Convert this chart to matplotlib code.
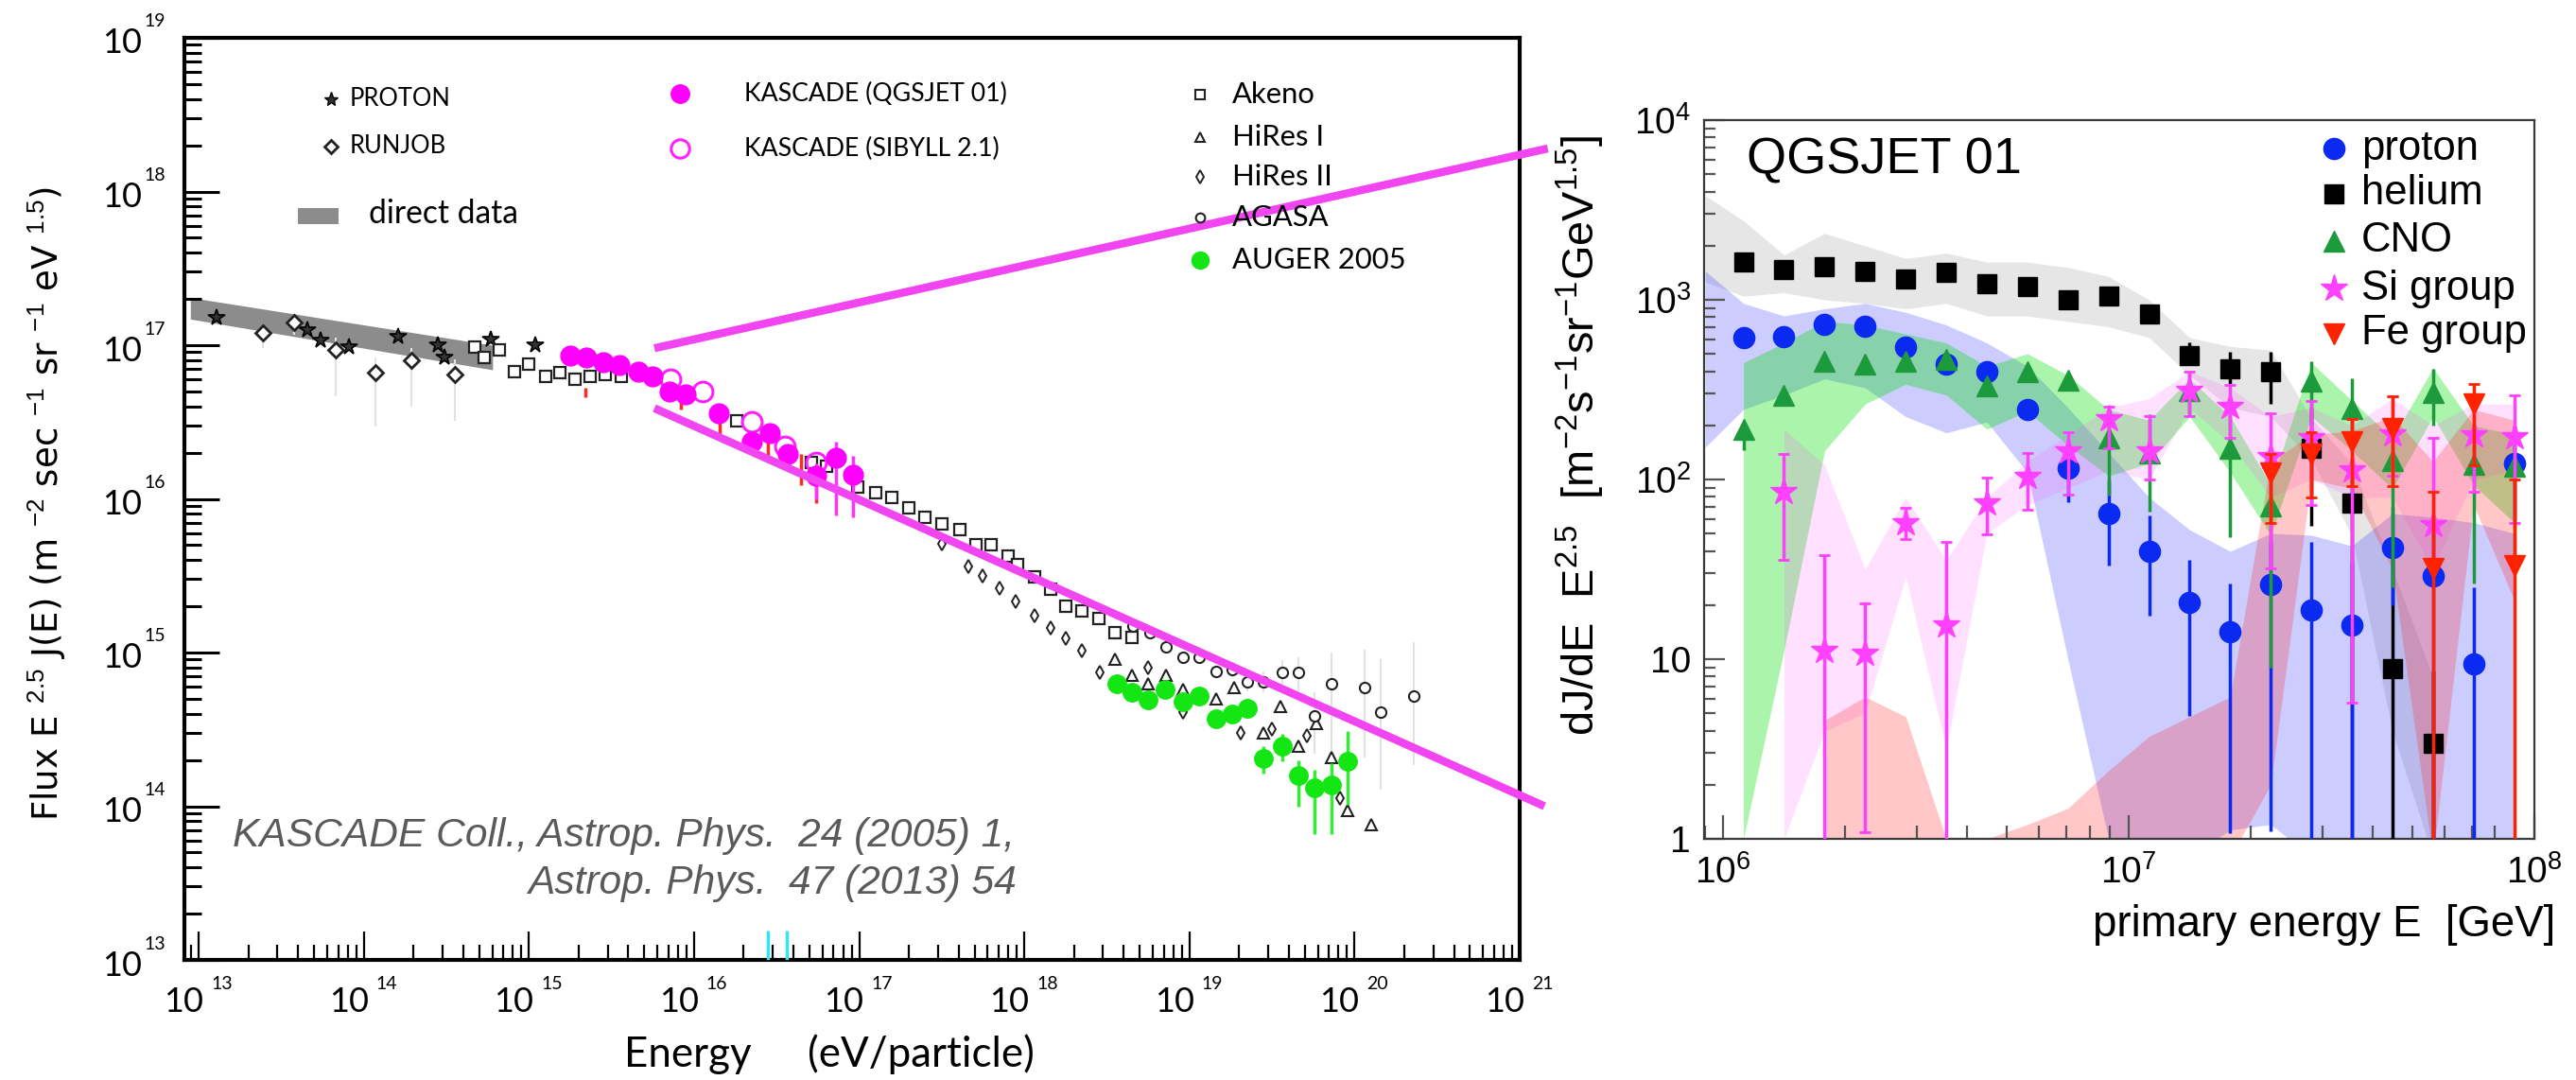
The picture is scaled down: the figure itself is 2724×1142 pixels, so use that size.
import numpy as np
import matplotlib
matplotlib.use('Agg')
import matplotlib.pyplot as plt
from matplotlib.lines import Line2D
from matplotlib.patches import Rectangle
from matplotlib.ticker import LogLocator, NullFormatter, FixedLocator
from matplotlib import font_manager

plt.rcParams['mathtext.fontset'] = 'custom'
plt.rcParams['mathtext.rm'] = 'Liberation Sans'
plt.rcParams['mathtext.it'] = 'Liberation Sans:italic'
plt.rcParams['mathtext.bf'] = 'Liberation Sans:bold'
plt.rcParams['font.family'] = ['Liberation Sans', 'DejaVu Sans']

# ---------------- LEFT PANEL DATA (log10 E [eV], log10 flux) ----------------
proton_logE = [13.11, 13.66, 13.74, 13.91, 14.21, 14.45, 14.49, 14.77, 15.04]
proton_logF = [17.18, 17.10, 17.03, 16.99, 17.055, 17.00, 16.92, 17.04, 17.00]

runjob_logE = [13.39, 13.58, 13.83, 14.07, 14.29, 14.55]
runjob_logF = [17.08, 17.15, 16.97, 16.82, 16.90, 16.81]
runjob_err_lo = [0.10, 0.08, 0.30, 0.35, 0.30, 0.30]
runjob_err_hi = [0.05, 0.05, 0.08, 0.10, 0.08, 0.10]

direct_logE = [12.95, 14.78]
direct_lo = [17.17, 16.84]
direct_hi = [17.31, 17.00]

akeno_logE = [14.67, 14.73, 14.82, 14.91, 15.00, 15.10, 15.19, 15.28, 15.37, 15.46, 15.56,
              16.26, 16.71, 16.80, 16.99, 17.10, 17.20, 17.30, 17.40, 17.50, 17.61, 17.71,
              17.80, 17.90, 17.96, 18.06, 18.16, 18.25, 18.35, 18.45, 18.55, 18.65]
akeno_logF = [16.99, 16.92, 16.97, 16.83, 16.88, 16.80, 16.82, 16.78, 16.80, 16.81, 16.80,
              16.51, 16.24, 16.21, 16.08, 16.04, 16.01, 15.94, 15.88, 15.84, 15.80, 15.70,
              15.70, 15.63, 15.57, 15.49, 15.41, 15.30, 15.27, 15.22, 15.13, 15.10]

hires2_logE = [17.50, 17.66, 17.75, 17.85, 17.95, 18.06, 18.16, 18.25, 18.35, 18.46,
               18.75, 18.96, 19.31, 19.50, 19.71, 19.91]
hires2_logF = [15.71, 15.56, 15.50, 15.42, 15.33, 15.24, 15.16, 15.09, 15.01, 14.87,
               14.90, 14.61, 14.48, 14.50, 14.46, 14.05]

hires1_logE = [18.55, 18.65, 18.75, 18.86, 18.96, 19.16, 19.27, 19.45, 19.55, 19.66,
               19.77, 19.86, 19.96, 20.10]
hires1_logF = [14.96, 14.85, 14.80, 14.85, 14.76, 14.70, 14.77, 14.48, 14.65, 14.39,
               14.54, 14.32, 13.97, 13.88]

agasa_logE = [18.66, 18.76, 18.86, 18.96, 19.06, 19.16, 19.26, 19.35, 19.45, 19.56,
              19.66, 19.76, 19.86, 20.06, 20.16, 20.36]
agasa_logF = [15.17, 15.13, 15.04, 14.97, 14.97, 14.88, 14.89, 14.81, 14.81, 14.87,
              14.87, 14.59, 14.80, 14.77, 14.61, 14.72]
agasa_err_lo = [0.02, 0.02, 0.02, 0.03, 0.03, 0.04, 0.05, 0.06, 0.07, 0.10,
                0.12, 0.25, 0.45, 0.45, 0.50, 0.45]
agasa_err_hi = [0.02, 0.02, 0.02, 0.03, 0.03, 0.04, 0.05, 0.06, 0.07, 0.08,
                0.10, 0.15, 0.20, 0.25, 0.35, 0.35]

auger_logE = [18.56, 18.65, 18.75, 18.85, 18.96, 19.06, 19.16, 19.26, 19.35, 19.45,
              19.56, 19.66, 19.76, 19.86, 19.96]
auger_logF = [14.80, 14.74, 14.69, 14.76, 14.68, 14.72, 14.57, 14.60, 14.64, 14.31,
              14.39, 14.20, 14.12, 14.14, 14.29]
auger_err_lo = [0.03, 0.03, 0.03, 0.03, 0.04, 0.04, 0.05, 0.05, 0.06, 0.10,
                0.10, 0.20, 0.30, 0.32, 0.28]
auger_err_hi = [0.03, 0.03, 0.03, 0.03, 0.04, 0.04, 0.05, 0.05, 0.06, 0.08,
                0.08, 0.10, 0.12, 0.14, 0.20]

kq_logE = [15.25, 15.35, 15.45, 15.55, 15.66, 15.75, 15.85, 15.95, 16.15, 16.35, 16.46,
           16.57, 16.74, 16.86, 16.96]
kq_logF = [16.93, 16.92, 16.89, 16.87, 16.83, 16.80, 16.70, 16.68, 16.56, 16.37, 16.43,
           16.29, 16.15, 16.27, 16.16]
kq_err_lo = [0.02, 0.02, 0.02, 0.02, 0.02, 0.02, 0.03, 0.03, 0.04, 0.05, 0.06,
             0.08, 0.15, 0.38, 0.28]
kq_err_hi = [0.02, 0.02, 0.02, 0.02, 0.02, 0.02, 0.03, 0.03, 0.04, 0.05, 0.06,
             0.06, 0.08, 0.10, 0.12]

ks_logE = [15.86, 16.05, 16.35, 16.55, 16.74]
ks_logF = [16.78, 16.70, 16.50, 16.34, 16.24]

red_logE = [15.34, 15.92, 16.155, 16.33, 16.45, 16.65, 16.74]
red_logF = [16.69, 16.62, 16.47, 16.35, 16.34, 16.19, 16.07]
red_err = [0.03, 0.04, 0.05, 0.05, 0.06, 0.10, 0.10]

cyan_logE = [16.45, 16.56]

# magenta "zoom" connector lines (log E, log flux in left-panel coordinates)
zoom_up_logE = [15.76, 21.17]
zoom_up_logF = [16.98, 18.28]
zoom_dn_logE = [15.76, 21.15]
zoom_dn_logF = [16.59, 14.00]

# ---------------- RIGHT PANEL DATA (log10 E [GeV], dJ/dE E^2.5) ----------------
E_log = [6.05, 6.15, 6.25, 6.35, 6.45, 6.55, 6.65, 6.75, 6.85, 6.95,
         7.05, 7.15, 7.25, 7.35, 7.45, 7.55, 7.65, 7.75, 7.85, 7.95]
nan = np.nan
proton = [618, 623, 727, 713, 547, 439, 396, 244, 116, 65, 40, 20.8, 14.2, 26, 18.8, 15.4, 42, 29, 9.4, 123]
proton_lo = [618, 623, 727, 713, 547, 439, 396, 244, 75, 33, 17.5, 4.85, 1.07, 1.1, 0.5, 0.5, 20, 0.5, 0.5, 60]
proton_hi = [618, 623, 727, 713, 547, 439, 396, 244, 150, 99, 63, 35.8, 26.5, 45, 44.7, 35, 70, 55, 25, 200]

helium = [1629, 1472, 1535, 1445, 1306, 1416, 1230, 1181, 1000, 1053, 838, 490, 413, 397, 150, 74, 8.9, 3.4, nan, nan]
helium_lo = [1629, 1472, 1535, 1445, 1306, 1416, 1230, 1181, 1000, 1053, 838, 440, 340, 265, 55, 0.5, 0.5, 0.5, nan, nan]
helium_hi = [1629, 1472, 1535, 1445, 1306, 1416, 1230, 1181, 1000, 1053, 838, 582, 515, 515, 250, 130, 36.5, 8.5, nan, nan]

cno = [191, 293, 457, 439, 457, 466, 331, 396, 358, 170, 140, 311, 150, 71, 351, 249, 128, 305, 121, 118]
cno_lo = [145, 293, 457, 439, 457, 466, 331, 396, 358, 81, 66, 230, 48, 9, 200, 180, 25, 200, 26.5, 30]
cno_hi = [191, 293, 457, 439, 457, 466, 331, 396, 358, 220, 230, 400, 230, 130, 457, 366, 190, 413, 200, 200]

si = [nan, 85.5, 11.1, 10.7, 57, 15.4, 74, 104, 144, 216, 144, 311, 254, 133, 170, 113, 178, 56, 177, 173]
si_lo = [nan, 35.8, 0.5, 1.09, 46.6, 0.5, 49.5, 68, 82, 150, 100, 224, 170, 32, 72, 5.7, 105, 36, 85, 57]
si_hi = [nan, 139, 38, 20.4, 69.8, 44.8, 102, 141, 184, 254, 224, 400, 337, 234, 275, 216, 289, 170, 289, 293]

fe = [nan] * 13 + [109, 139, 163, 192, 32, 265, 33]
fe_lo = [nan] * 13 + [57, 79, 92, 92, 0.5, 120, 0.5]
fe_hi = [nan] * 13 + [139, 184, 216, 289, 85, 339, 100]

# systematic bands (log10 of bounds)
he_band_logE = [5.956] + E_log[:18]
he_band_hi = [3.58, 3.44, 3.25, 3.37, 3.30, 3.23, 3.26, 3.21, 3.21, 3.18, 3.13, 3.00, 2.79, 2.74, 2.72, 2.34, 2.09, 1.50, 0.90]
he_band_lo = [3.10, 3.02, 3.04, 3.00, 2.98, 2.95, 2.98, 2.91, 2.91, 2.88, 2.85, 2.79, 2.58, 2.40, 2.35, 2.11, 1.69, 0.60, -0.10]

p_band_logE = [5.956] + E_log
p_band_hi = [3.16, 2.98, 2.91, 2.95, 2.98, 2.93, 2.86, 2.76, 2.63, 2.40, 2.15, 1.90, 1.72, 1.60, 1.70, 1.69, 1.63, 1.81, 1.79, 1.76, 1.70]
p_band_lo = [2.18, 2.39, 2.47, 2.56, 2.51, 2.35, 2.26, 2.32, 2.04, 1.00, 0.00, -0.10, -0.10, 0.05, 0.08, -0.10, -0.10, -0.10, -0.10, -0.10, -0.10]

c_band_logE = E_log
c_band_hi = [2.65, 2.76, 2.88, 2.86, 2.81, 2.76, 2.63, 2.70, 2.58, 2.39, 2.33, 2.56, 2.35, 1.97, 2.65, 2.44, 2.23, 2.62, 2.30, 2.25]
c_band_lo = [0.00, 1.05, 2.16, 2.42, 2.53, 2.47, 2.28, 2.38, 2.19, 2.02, 2.09, 2.35, 2.04, 1.69, 2.35, 2.16, 1.95, 2.35, 1.97, 1.76]

s_band_logE = E_log[1:]
s_band_hi = [2.28, 2.08, 1.50, 1.90, 1.55, 1.90, 2.10, 2.25, 2.40, 2.45, 2.60, 2.51, 2.35, 2.40, 2.30, 2.45, 2.30, 2.42, 2.42]
s_band_lo = [0.00, 0.60, 0.70, 1.46, 0.50, 1.70, 1.86, 1.95, 2.05, 2.00, 2.40, 2.20, 1.90, 2.00, 1.90, 1.90, 1.50, 2.00, 2.05]

f_band_logE = E_log[2:]
f_band_hi = [0.66, 0.79, 0.68, 0.00, 0.00, 0.08, 0.17, 0.38, 0.57, 0.68, 0.79, 2.10, 2.25, 2.27, 2.35, 2.10, 2.39, 2.33]
f_band_lo = [-0.1, -0.1, -0.1, -0.1, -0.1, -0.1, -0.1, -0.1, -0.1, -0.1, -0.1, 0.30, 2.00, 1.95, 1.50, -0.1, 1.86, 1.33]

# ---------------- FIGURE ----------------
W, H = 2724, 1142
DPI = 100
fig = plt.figure(figsize=(W / DPI, H / DPI), dpi=DPI)
fig.patch.set_facecolor('white')
renderer = fig.canvas.get_renderer()


def fx(px):
    return px / W


def fy(py):
    return 1 - py / H


def pt(px):
    return px * 72.0 / DPI


def p10(a):
    return 10 ** np.asarray(a, dtype=float)


def fit(t, target, dim='w'):
    """Scale font size so that the text's extent matches the target (pixels)."""
    for _ in range(3):
        bb = t.get_window_extent(renderer)
        cur = bb.width if dim == 'w' else bb.height
        if cur > 0:
            t.set_fontsize(t.get_fontsize() * target / cur)
    return t.get_fontsize()


def have_font(name):
    try:
        font_manager.findfont(font_manager.FontProperties(family=name), fallback_to_default=False)
        return True
    except Exception:
        return False


LEFT_FONT = ['Lato', 'DejaVu Sans']
CITE_FONT = 'Liberation Sans Narrow' if have_font('Liberation Sans Narrow') else 'Liberation Sans'

# ---------- left axes ----------
ax1 = fig.add_axes([fx(195), fy(1015), fx(1607 - 195), (1015 - 40) / H])
ax1.set_xscale('log')
ax1.set_yscale('log')
ax1.set_xlim(10 ** 12.914, 1e21)
ax1.set_ylim(1e13, 1e19)
for s in ax1.spines.values():
    s.set_linewidth(3.0)
    s.set_color('black')
ax1.xaxis.set_major_locator(FixedLocator(p10(range(13, 22))))
ax1.yaxis.set_major_locator(FixedLocator(p10(range(13, 20))))
ax1.xaxis.set_minor_locator(LogLocator(base=10, subs=range(2, 10), numticks=100))
ax1.yaxis.set_minor_locator(LogLocator(base=10, subs=range(2, 10), numticks=100))
ax1.xaxis.set_minor_formatter(NullFormatter())
ax1.yaxis.set_minor_formatter(NullFormatter())
ax1.tick_params(which='both', direction='in', top=False, right=False,
                labelbottom=False, labelleft=False, color='black')
ax1.tick_params(axis='y', which='major', length=pt(37), width=2.2)
ax1.tick_params(axis='y', which='minor', length=pt(18), width=2.2)
ax1.tick_params(axis='x', which='major', length=pt(30), width=1.6)
ax1.tick_params(axis='x', which='minor', length=pt(16), width=1.6)

for d in range(13, 20):
    ax1.annotate('10', xy=(0, 10 ** d), xycoords=('axes fraction', 'data'),
                 xytext=(pt(-45), pt(-6)), textcoords='offset points',
                 ha='right', va='center', fontsize=26, family=LEFT_FONT)
    ax1.annotate(str(d), xy=(0, 10 ** d), xycoords=('axes fraction', 'data'),
                 xytext=(pt(-43), pt(17)), textcoords='offset points',
                 ha='left', va='center', fontsize=14, family=LEFT_FONT)
for d in range(13, 22):
    ax1.annotate('10', xy=(10 ** d, 0), xycoords=('data', 'axes fraction'),
                 xytext=(pt(-16), pt(-45)), textcoords='offset points',
                 ha='center', va='center', fontsize=26, family=LEFT_FONT)
    ax1.annotate(str(d), xy=(10 ** d, 0), xycoords=('data', 'axes fraction'),
                 xytext=(pt(13), pt(-25)), textcoords='offset points',
                 ha='left', va='center', fontsize=14, family=LEFT_FONT)

# direct data band
ax1.fill_between(p10(direct_logE), p10(direct_lo), p10(direct_hi), color='#8c8c8c', lw=0, zorder=1)

faint = '#e2e2e2'
ax1.errorbar(p10(runjob_logE), p10(runjob_logF),
             yerr=[p10(runjob_logF) - p10(np.array(runjob_logF) - runjob_err_lo),
                   p10(np.array(runjob_logF) + runjob_err_hi) - p10(runjob_logF)],
             fmt='none', ecolor=faint, elinewidth=1.5, zorder=1.5)
ax1.errorbar(p10(agasa_logE), p10(agasa_logF),
             yerr=[p10(agasa_logF) - p10(np.array(agasa_logF) - agasa_err_lo),
                   p10(np.array(agasa_logF) + agasa_err_hi) - p10(agasa_logF)],
             fmt='none', ecolor=faint, elinewidth=1.5, zorder=1.5)

ax1.plot(p10(proton_logE), p10(proton_logF), ls='none', marker='*', ms=13,
         mfc='#333333', mec='black', mew=1.2, zorder=3)
ax1.plot(p10(runjob_logE), p10(runjob_logF), ls='none', marker='D', ms=8,
         mfc='white', mec='#222222', mew=2.0, zorder=3)
ax1.plot(p10(akeno_logE), p10(akeno_logF), ls='none', marker='s', ms=8,
         mfc='white', mec='#222222', mew=1.6, zorder=3)
ax1.plot(p10(hires2_logE), p10(hires2_logF), ls='none', marker='d', ms=7,
         mfc='white', mec='#222222', mew=1.4, zorder=3)
ax1.plot(p10(hires1_logE), p10(hires1_logF), ls='none', marker='^', ms=8,
         mfc='white', mec='#222222', mew=1.5, zorder=3)
ax1.plot(p10(agasa_logE), p10(agasa_logF), ls='none', marker='o', ms=8,
         mfc='white', mec='#222222', mew=1.5, zorder=3)

ax1.errorbar(p10(auger_logE), p10(auger_logF),
             yerr=[p10(auger_logF) - p10(np.array(auger_logF) - auger_err_lo),
                   p10(np.array(auger_logF) + auger_err_hi) - p10(auger_logF)],
             fmt='o', ms=14, mfc='#14e614', mec='#14e614', ecolor='#30ee30',
             elinewidth=2.5, zorder=4)

ax1.errorbar(p10(red_logE), p10(red_logF),
             yerr=[p10(red_logF) - p10(np.array(red_logF) - red_err),
                   p10(np.array(red_logF) + red_err) - p10(red_logF)],
             fmt='none', ecolor='#ff2a2a', elinewidth=2.5, zorder=4)

ax1.errorbar(p10(kq_logE), p10(kq_logF),
             yerr=[p10(kq_logF) - p10(np.array(kq_logF) - kq_err_lo),
                   p10(np.array(kq_logF) + kq_err_hi) - p10(kq_logF)],
             fmt='o', ms=15, mfc='#ff00ff', mec='#ff00ff', ecolor='#ff33ff',
             elinewidth=2.5, zorder=5)
ax1.plot(p10(ks_logE), p10(ks_logF), ls='none', marker='o', ms=15,
         mfc='none', mec='#ff22ff', mew=2.2, zorder=5)

ax1.vlines(p10(cyan_logE), 1e13, 10 ** 13.19, color='#33e5ee', lw=2.5, zorder=6)

ax1.plot(p10(zoom_up_logE), p10(zoom_up_logF), color='#f245f2', lw=pt(8.5),
         solid_capstyle='butt', clip_on=False, zorder=10)
ax1.plot(p10(zoom_dn_logE), p10(zoom_dn_logF), color='#f245f2', lw=pt(8.5),
         solid_capstyle='butt', clip_on=False, zorder=10)


# left legend (manual, as in the original figure)
def fig_marker(xpx, ypx, **kw):
    fig.add_artist(Line2D([fx(xpx)], [fy(ypx)], transform=fig.transFigure,
                          linestyle='none', **kw))


fig_marker(350, 105, marker='*', ms=11, mfc='#333333', mec='black', mew=1.0)
t_pr = fig.text(fx(370), fy(105), 'PROTON', ha='left', va='center', fontsize=18, family=LEFT_FONT)
fs_small = fit(t_pr, 107)
fig_marker(350, 155, marker='D', ms=7, mfc='white', mec='#222222', mew=2.0)
fig.text(fx(370), fy(155), 'RUNJOB', ha='left', va='center', fontsize=fs_small, family=LEFT_FONT)
fig.add_artist(Rectangle((fx(315), fy(237)), fx(358) - fx(315), fy(220) - fy(237),
                         transform=fig.transFigure, color='#8c8c8c', lw=0))
t_dd = fig.text(fx(390), fy(226), 'direct data', ha='left', va='center', fontsize=25, family=LEFT_FONT)
fit(t_dd, 158)

fig_marker(719, 99, marker='o', ms=14, mfc='#ff00ff', mec='#ff00ff')
t_kq = fig.text(fx(787), fy(99), 'KASCADE (QGSJET 01)', ha='left', va='center', fontsize=18, family=LEFT_FONT)
fs_k = fit(t_kq, 276)
fig_marker(719, 157, marker='o', ms=14, mfc='none', mec='#ff22ff', mew=2.2)
fig.text(fx(787), fy(157), 'KASCADE (SIBYLL 2.1)', ha='left', va='center', fontsize=fs_k, family=LEFT_FONT)

leg3 = [('Akeno', dict(marker='s', ms=7, mfc='white', mec='#222222', mew=1.5), 100),
        ('HiRes I', dict(marker='^', ms=7, mfc='white', mec='#222222', mew=1.5), 145),
        ('HiRes II', dict(marker='d', ms=7, mfc='white', mec='#222222', mew=1.4), 187),
        ('AGASA', dict(marker='o', ms=7, mfc='white', mec='#222222', mew=1.5), 230),
        ('AUGER 2005', dict(marker='o', ms=13, mfc='#14e614', mec='#14e614'), 275)]
t_probe = fig.text(0, 0, 'AUGER 2005', fontsize=24, family=LEFT_FONT)
fs3 = fit(t_probe, 184)
t_probe.remove()
for lab, kw, ypx in leg3:
    fig_marker(1269, ypx, **kw)
    fig.text(fx(1303), fy(ypx), lab, ha='left', va='center', fontsize=fs3, family=LEFT_FONT)

t_c1 = fig.text(fx(246), fy(884), 'KASCADE Coll., Astrop. Phys.  24 (2005) 1,', ha='left', va='center',
                fontsize=30, style='italic', color='#5a5a5a', family=[CITE_FONT, 'Liberation Sans'])
fs_c = fit(t_c1, 827)
fig.text(fx(558), fy(934), 'Astrop. Phys.  47 (2013) 54', ha='left', va='center',
         fontsize=fs_c, style='italic', color='#5a5a5a', family=[CITE_FONT, 'Liberation Sans'])

t_ev = fig.text(fx(1094), fy(1115), '(eV/particle)', ha='right', va='center', fontsize=28, family=LEFT_FONT)
fs_x = fit(t_ev, 239)
fig.text(fx(660), fy(1115), 'Energy', ha='left', va='center', fontsize=fs_x, family=LEFT_FONT)

t_yl = fig.text(fx(50), fy(532),
                r'Flux E $^{2.5}$ J(E) (m $^{-2}$ sec $^{-1}$ sr $^{-1}$ eV $^{1.5}$)',
                rotation=90, ha='center', va='center', fontsize=24, family='DejaVu Sans')
fit(t_yl, 671, 'h')

# ---------- right axes ----------
ax2 = fig.add_axes([fx(1802), fy(887), fx(2680 - 1802), (887 - 127) / H])
ax2.set_xscale('log')
ax2.set_yscale('log')
ax2.set_xlim(10 ** 5.953, 1e8)
ax2.set_ylim(1, 1e4)
for s in ax2.spines.values():
    s.set_linewidth(1.6)
    s.set_color('#3a3a3a')

Eb = p10(E_log)
ax2.fill_between(p10(he_band_logE), p10(he_band_lo), p10(he_band_hi), color='#a8a8a8', alpha=0.28, lw=0, zorder=1)
ax2.fill_between(p10(p_band_logE), p10(p_band_lo), p10(p_band_hi), color='#2a2aff', alpha=0.24, lw=0, zorder=1)
ax2.fill_between(p10(c_band_logE), p10(c_band_lo), p10(c_band_hi), color='#00e000', alpha=0.33, lw=0, zorder=1)
ax2.fill_between(p10(s_band_logE), p10(s_band_lo), p10(s_band_hi), color='#ff50ff', alpha=0.17, lw=0, zorder=1)
ax2.fill_between(p10(f_band_logE), p10(f_band_lo), p10(f_band_hi), color='#ff3030', alpha=0.27, lw=0, zorder=1)


def eb(vals, lo, hi, **kw):
    v = np.asarray(vals, float)
    return ax2.errorbar(Eb, v, yerr=[v - np.asarray(lo, float), np.asarray(hi, float) - v], **kw)


c_p, c_he, c_cno, c_si, c_fe = '#0a2af2', '#000000', '#1d9a3c', '#ff40ff', '#ff2200'
eb(helium, helium_lo, helium_hi, fmt='s', ms=15, color=c_he, elinewidth=2.5, zorder=3)
eb(proton, proton_lo, proton_hi, fmt='o', ms=16, color=c_p, elinewidth=2.5, zorder=4)
eb(cno, cno_lo, cno_hi, fmt='^', ms=16, color=c_cno, elinewidth=2.5, zorder=5)
eb(si, si_lo, si_hi, fmt='*', ms=21, color=c_si, elinewidth=2.5, capsize=4, capthick=2, zorder=6)
eb(fe, fe_lo, fe_hi, fmt='v', ms=16, color=c_fe, elinewidth=2.5, capsize=4, capthick=2, zorder=7)

ax2.xaxis.set_major_locator(FixedLocator([1e6, 1e7, 1e8]))
ax2.yaxis.set_major_locator(FixedLocator([1, 10, 100, 1000, 10000]))
ax2.xaxis.set_minor_locator(LogLocator(base=10, subs=range(2, 10), numticks=100))
ax2.yaxis.set_minor_locator(LogLocator(base=10, subs=range(2, 10), numticks=100))
ax2.xaxis.set_minor_formatter(NullFormatter())
ax2.yaxis.set_minor_formatter(NullFormatter())
ax2.set_xticklabels([r'$10^6$', r'$10^7$', r'$10^8$'], fontsize=28)
ax2.set_yticklabels(['1', '10', r'$10^2$', r'$10^3$', r'$10^4$'], fontsize=28)
ax2.tick_params(which='both', direction='in', top=False, right=False, color='#555555')
ax2.tick_params(axis='y', which='major', length=pt(22), width=1.6, pad=10)
ax2.tick_params(axis='y', which='minor', length=pt(12), width=1.6)
ax2.tick_params(axis='x', which='major', length=pt(25), width=1.6, pad=12)
ax2.tick_params(axis='x', which='minor', length=pt(14), width=1.6)
for tk in ax2.yaxis.get_minor_ticks() + ax2.yaxis.get_major_ticks():
    v = tk.get_loc()
    if v is not None and 10 <= v <= 100:
        tk.tick1line.set_color('#3d3dff')

t_q = fig.text(fx(1847), fy(169), 'QGSJET 01', ha='left', va='center', fontsize=38)
fit(t_q, 291)

leg_r = [('proton', dict(marker='o', ms=16, mfc=c_p, mec=c_p), 157),
         ('helium', dict(marker='s', ms=15, mfc=c_he, mec=c_he), 205),
         ('CNO', dict(marker='^', ms=16, mfc=c_cno, mec=c_cno), 255),
         ('Si group', dict(marker='*', ms=21, mfc=c_si, mec=c_si), 305),
         ('Fe group', dict(marker='v', ms=16, mfc=c_fe, mec=c_fe), 353)]
t_probe = fig.text(0, 0, 'Fe group', fontsize=32)
fs_r = fit(t_probe, 175)
t_probe.remove()
for lab, kw, ypx in leg_r:
    fig_marker(2468, ypx, **kw)
    fig.text(fx(2497), fy(ypx), lab, ha='left', va='center', fontsize=fs_r)

t_xr = fig.text(fx(2702), fy(978), 'primary energy E  [GeV]', ha='right', va='center', fontsize=33)
fit(t_xr, 490)
t_yr = fig.text(fx(1671), fy(460),
                r'dJ/dE  E$^{2.5}$  [m$^{-2}$s$^{-1}$sr$^{-1}$GeV$^{1.5}$]',
                rotation=90, ha='center', va='center', fontsize=36)
fit(t_yr, 634, 'h')

fig.savefig('out.png', dpi=DPI, facecolor='white')
